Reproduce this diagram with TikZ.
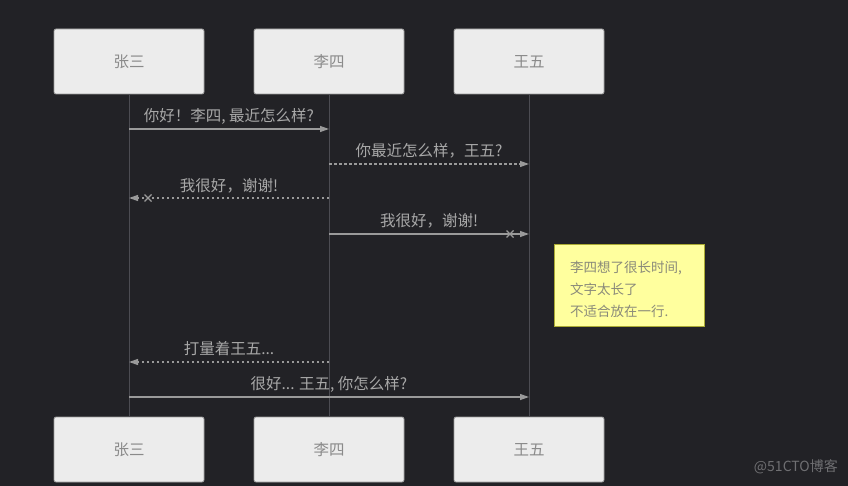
\documentclass[tikz,border=0pt]{standalone}
\usepackage{fontspec}
\setmainfont{Noto Sans CJK SC}
\usetikzlibrary{arrows.meta}
\definecolor{bg}{HTML}{222226}
\definecolor{boxfill}{HTML}{ECECEC}
\definecolor{boxline}{HTML}{9A9A9A}
\definecolor{boxtext}{HTML}{8A8A8A}
\definecolor{life}{HTML}{4C4C52}
\definecolor{msg}{HTML}{9A9A9A}
\definecolor{msgtext}{HTML}{A8A8A8}
\definecolor{notefill}{HTML}{FFFF9E}
\definecolor{noteline}{HTML}{AAAA33}
\definecolor{notetext}{HTML}{8A8A7A}
\begin{document}
\begin{tikzpicture}[x=1pt,y=-1pt,
  actor/.style={draw=boxline,fill=boxfill,rounded corners=2pt,minimum width=150pt,minimum height=65pt,inner sep=0pt,text=boxtext,font=\fontsize{15.5}{17}\selectfont,line width=0.8pt},
  lifeline/.style={draw=life,line width=1pt},
  msgline/.style={draw=msg,line width=1.2pt,-{Triangle[length=9pt,width=6pt]}},
  msgdash/.style={msgline,dash pattern=on 2.5pt off 2.5pt},
  msglabel/.style={text=msgtext,font=\fontsize{15.5}{17}\selectfont,inner sep=0pt},
  cross/.style={draw=msg,line width=1.2pt},
  notetxt/.style={anchor=west,text=notetext,font=\fontsize{13.5}{15}\selectfont,inner sep=0pt},
  note/.style={draw=noteline,fill=notefill,minimum width=150pt,minimum height=82pt,inner sep=0pt,line width=0.8pt}
]
\useasboundingbox (0,0) rectangle (848,486);
\fill[bg] (0,0) rectangle (848,486);

% actors top
\node[actor] (a1) at (129,61.5) {张三};
\node[actor] (a2) at (329,61.5) {李四};
\node[actor] (a3) at (529,61.5) {王五};
% actors bottom
\node[actor] (b1) at (129,449.5) {张三};
\node[actor] (b2) at (329,449.5) {李四};
\node[actor] (b3) at (529,449.5) {王五};

% lifelines
\draw[lifeline] (a1.south) -- (b1.north);
\draw[lifeline] (a2.south) -- (b2.north);
\draw[lifeline] (a3.south) -- (b3.north);

% message endpoints
\coordinate (m1s) at (129,129); \coordinate (m1e) at (329,129);
\coordinate (m2s) at (329,164); \coordinate (m2e) at (529,164);
\coordinate (m3s) at (329,198); \coordinate (m3e) at (129,198);
\coordinate (m4s) at (329,234); \coordinate (m4e) at (529,234);
\coordinate (m6s) at (329,362); \coordinate (m6e) at (129,362);
\coordinate (m7s) at (129,397); \coordinate (m7e) at (529,397);

\draw[msgline] (m1s) -- (m1e);
\node[msglabel] (l1) at (229,116) {你好！李四, 最近怎么样?};

\draw[msgdash] (m2s) -- (m2e);
\node[msglabel] (l2) at (429,151) {你最近怎么样，王五?};

\draw[msgdash] (m3s) -- (m3e);
\node[msglabel] (l3) at (229,186) {我很好，谢谢!};
\coordinate (x3) at (148,198);
\draw[cross] ([shift={(-3.5,-3.5)}]x3) -- ([shift={(3.5,3.5)}]x3);
\draw[cross] ([shift={(-3.5,3.5)}]x3) -- ([shift={(3.5,-3.5)}]x3);

\draw[msgline] (m4s) -- (m4e);
\node[msglabel] (l4) at (429,221) {我很好，谢谢!};
\coordinate (x4) at (510,234);
\draw[cross] ([shift={(-3.5,-3.5)}]x4) -- ([shift={(3.5,3.5)}]x4);
\draw[cross] ([shift={(-3.5,3.5)}]x4) -- ([shift={(3.5,-3.5)}]x4);

% note
\node[note] (n1) at (629,285) {};
\node[notetxt] (nt1) at (570,268) {李四想了很长时间,};
\node[notetxt] (nt2) at (570,289.5) {文字太长了};
\node[notetxt] (nt3) at (570,311) {不适合放在一行.};

\draw[msgdash] (m6s) -- (m6e);
\node[msglabel] (l6) at (229,349) {打量着王五...};

\draw[msgline] (m7s) -- (m7e);
\node[msglabel] (l7) at (329,384) {很好... 王五, 你怎么样?};

% watermark
\node[anchor=east,text=white!35!bg,font=\fontsize{14}{16}\selectfont,inner sep=0pt] (wm) at (838,467) {@51CTO博客};
\end{tikzpicture}
\end{document}
